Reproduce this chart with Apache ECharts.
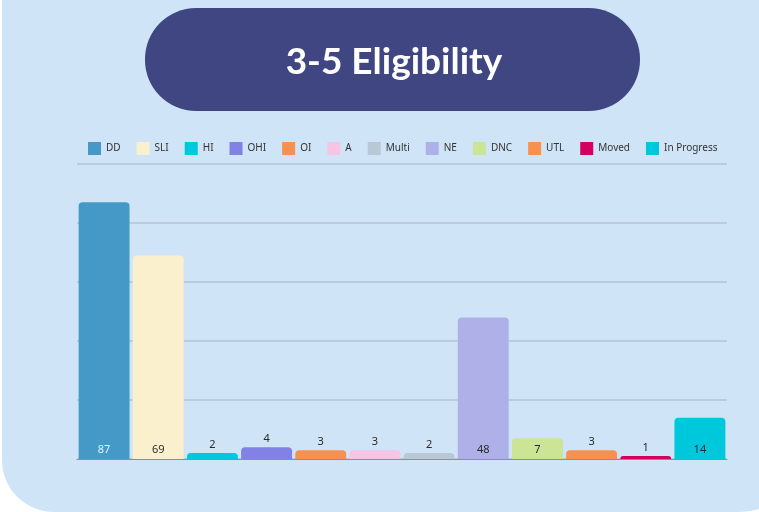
<!DOCTYPE html>
<html>
<head>
<meta charset="utf-8">
<script src="https://cdn.jsdelivr.net/npm/echarts@6/dist/echarts.min.js"></script>
<style>
    html, body {margin: 0; padding: 0; background: #ffffff;}
    #chart {width: 759px; height: 512px;}
</style>
</head>
<body>
<div id="chart"></div>
<script>
    // 数据
    const categories = ['DD', 'SLI', 'HI', 'OHI', 'OI', 'A', 'Multi', 'NE', 'DNC', 'UTL', 'Moved', 'In Progress'];
    const values = [87, 69, 2, 4, 3, 3, 2, 48, 7, 3, 1, 14];
    const colors = ['#4599c7', '#fbf0cd', '#00c8dc', '#8181e6', '#f89150', '#f8c4e4',
        '#b9c8d7', '#b0b0e8', '#cce496', '#f89150', '#d40060', '#00c8dc'];
    const yTicks = [0, 20, 40, 60, 80, 100];

    const chart = echarts.init(document.getElementById('chart'));

    // 每个类别一个系列，堆叠在一起，这样柱子占满整格
    const series = categories.map(function (name, i) {
        const data = categories.map(function (c, j) {
            return j === i ? values[i] : '-';
        });
        const inside = values[i] >= 7;
        return {
            name: name,
            type: 'bar',
            stack: 'all',
            barWidth: '94%',
            data: data,
            itemStyle: {color: colors[i], borderRadius: [4, 4, 0, 0]},
            label: {
                show: true,
                position: inside ? 'insideBottom' : 'top',
                distance: inside ? 4 : 3,
                color: i === 0 ? '#e6f0f8' : '#2a2a2a',
                fontSize: 11,
                fontFamily: 'Noto Sans'
            }
        };
    });

    const option = {
        backgroundColor: 'transparent',
        animation: false,
        title: {
            text: '3-5 Eligibility',
            left: 389,
            top: 57,
            textAlign: 'center',
            textVerticalAlign: 'middle',
            textStyle: {
                color: '#ffffff',
                fontSize: 37,
                fontWeight: 'bold',
                fontFamily: 'Lato'
            }
        },
        graphic: [
            {
                type: 'rect',
                z: -10,
                shape: {x: 2, y: -10, width: 800, height: 522, r: [0, 0, 62, 52]},
                style: {fill: '#cfe4f6'}
            },
            {
                type: 'rect',
                z: -5,
                shape: {x: 145, y: 8, width: 495, height: 103, r: 51},
                style: {fill: '#3f4682'}
            }
        ],
        legend: {
            top: 137,
            left: 83,
            itemWidth: 13,
            itemHeight: 13,
            itemGap: 16,
            icon: 'rect',
            textStyle: {fontSize: 10, color: '#333', fontFamily: 'Noto Sans'},
            data: categories
        },
        grid: {left: 77, right: 32, top: 164, bottom: 53},
        xAxis: {
            type: 'category',
            data: categories,
            axisLine: {lineStyle: {color: '#8a8f96', width: 1}},
            axisTick: {show: false},
            axisLabel: {show: false}
        },
        yAxis: {
            type: 'value',
            min: yTicks[0],
            max: yTicks[yTicks.length - 1],
            interval: 20,
            axisLabel: {show: false},
            axisLine: {show: false},
            axisTick: {show: false},
            splitLine: {lineStyle: {color: '#b3c5d6', width: 1.5}}
        },
        series: series
    };

    chart.setOption(option);
</script>
</body>
</html>
